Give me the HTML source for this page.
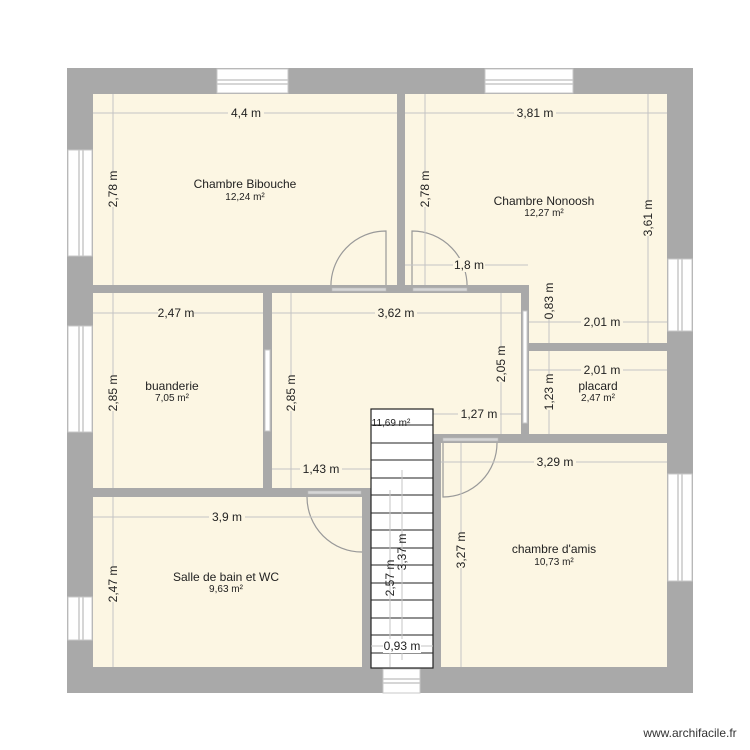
<!DOCTYPE html>
<html><head><style>
html,body{margin:0;padding:0;background:#fff;}
svg{display:block;font-family:"Liberation Sans",Arial,sans-serif;}
</style></head><body>
<svg width="750" height="750" viewBox="0 0 750 750" xmlns="http://www.w3.org/2000/svg">
<rect x="67" y="68" width="626" height="625" fill="#a9a9a9"/>
<g fill="#fcf6e3">
<rect x="93" y="94" width="304" height="191"/>
<rect x="405" y="94" width="262" height="191"/>
<rect x="529" y="285" width="138" height="58"/>
<rect x="529" y="351" width="138" height="83"/>
<rect x="93" y="293" width="170" height="195"/>
<rect x="272" y="293" width="249" height="143"/>
<rect x="272" y="436" width="161" height="52"/>
<rect x="93" y="497" width="269" height="170"/>
<rect x="441" y="443" width="226" height="224"/>
</g>
<g fill="#fff" stroke="#c8c8c8" stroke-width="1">
<rect x="217" y="69" width="71" height="24"/>
<rect x="485" y="69" width="88" height="24"/>
<rect x="68" y="150" width="24" height="106"/>
<rect x="68" y="326" width="24" height="106"/>
<rect x="68" y="597" width="24" height="43"/>
<rect x="668" y="259" width="24" height="72"/>
<rect x="668" y="474" width="24" height="107"/>
<rect x="383" y="669" width="37" height="24"/>
</g>
<g stroke="#c8c8c8" stroke-width="1.5">
<line x1="217" y1="80" x2="288" y2="80"/><line x1="217" y1="84" x2="288" y2="84"/>
<line x1="485" y1="80" x2="573" y2="80"/><line x1="485" y1="84" x2="573" y2="84"/>
<line x1="79" y1="150" x2="79" y2="256"/><line x1="83" y1="150" x2="83" y2="256"/>
<line x1="79" y1="326" x2="79" y2="432"/><line x1="83" y1="326" x2="83" y2="432"/>
<line x1="79" y1="597" x2="79" y2="640"/><line x1="83" y1="597" x2="83" y2="640"/>
<line x1="678" y1="259" x2="678" y2="331"/><line x1="682" y1="259" x2="682" y2="331"/>
<line x1="678" y1="474" x2="678" y2="581"/><line x1="682" y1="474" x2="682" y2="581"/>
<line x1="383" y1="679" x2="420" y2="679"/><line x1="383" y1="683" x2="420" y2="683"/>
</g>
<g fill="none" stroke="#999" stroke-width="1.2">
<path d="M386 289 V231 A55 55 0 0 0 331 289"/>
<path d="M412 289 V231 A55 55 0 0 1 467 289"/>
<path d="M307 497 A55 55 0 0 0 362 552"/>
<path d="M443 443 V497 A54 54 0 0 0 497 443"/>
</g>
<g stroke="#c4c4c4" stroke-width="1" fill="none">
<line x1="93" y1="113" x2="397" y2="113"/>
<line x1="113" y1="94" x2="113" y2="285"/>
<line x1="405" y1="113" x2="667" y2="113"/>
<line x1="425" y1="94" x2="425" y2="285"/>
<line x1="648" y1="94" x2="648" y2="343"/>
<line x1="405" y1="265" x2="528" y2="265"/>
<line x1="93" y1="313" x2="263" y2="313"/>
<line x1="113" y1="293" x2="113" y2="488"/>
<line x1="272" y1="313" x2="521" y2="313"/>
<line x1="291" y1="293" x2="291" y2="488"/>
<line x1="501" y1="293" x2="501" y2="436"/>
<line x1="529" y1="322" x2="667" y2="322"/>
<line x1="549" y1="285" x2="549" y2="343"/>
<line x1="529" y1="370" x2="667" y2="370"/>
<line x1="549" y1="351" x2="549" y2="434"/>
<line x1="433" y1="414" x2="521" y2="414"/>
<line x1="272" y1="469" x2="371" y2="469"/>
<line x1="441" y1="462" x2="667" y2="462"/>
<line x1="461" y1="443" x2="461" y2="667"/>
<line x1="93" y1="517" x2="362" y2="517"/>
<line x1="113" y1="497" x2="113" y2="667"/>
</g>
<g fill="#a9a9a9">
<rect x="93" y="285" width="436" height="8"/>
<rect x="397" y="94" width="8" height="199"/>
<rect x="521" y="285" width="8" height="151"/>
<rect x="529" y="343" width="138" height="8"/>
<rect x="433" y="434" width="234" height="9"/>
<rect x="433" y="434" width="8" height="233"/>
<rect x="263" y="293" width="9" height="204"/>
<rect x="93" y="488" width="278" height="9"/>
<rect x="362" y="488" width="9" height="179"/>
</g>
<g fill="#d6d6d6" stroke="#bbb" stroke-width="0.6">
<rect x="332" y="288" width="54" height="3"/>
<rect x="413" y="288" width="54" height="3"/>
<rect x="308" y="491" width="53" height="3"/>
<rect x="443" y="438" width="55" height="3"/>
</g>
<rect x="265" y="350" width="5" height="81" fill="#fff" stroke="#c8c8c8"/>
<rect x="523" y="311" width="4" height="112" fill="#fff" stroke="#c8c8c8"/>
<rect x="371" y="409" width="62" height="259" fill="#fff" stroke="#222" stroke-width="1.2"/>
<g stroke="#222" stroke-width="1">
<line x1="371" y1="425" x2="433" y2="425"/><line x1="371" y1="443" x2="433" y2="443"/>
<line x1="371" y1="460" x2="433" y2="460"/><line x1="371" y1="478" x2="433" y2="478"/>
<line x1="371" y1="495" x2="433" y2="495"/><line x1="371" y1="513" x2="433" y2="513"/>
<line x1="371" y1="530" x2="433" y2="530"/><line x1="371" y1="548" x2="433" y2="548"/>
<line x1="371" y1="565" x2="433" y2="565"/><line x1="371" y1="583" x2="433" y2="583"/>
<line x1="371" y1="600" x2="433" y2="600"/><line x1="371" y1="618" x2="433" y2="618"/>
<line x1="371" y1="635" x2="433" y2="635"/><line x1="371" y1="653" x2="433" y2="653"/>
</g>
<g stroke="#c4c4c4" stroke-width="1">
<line x1="390" y1="490" x2="390" y2="667"/>
<line x1="402" y1="470" x2="402" y2="660"/>
<line x1="371" y1="646" x2="433" y2="646"/>
</g>
<g font-size="12" fill="#222" text-anchor="middle">
<g fill="#fcf6e3"><rect x="228" y="106" width="36" height="14"/><rect x="514" y="106" width="42" height="14"/>
<rect x="158" y="306" width="36" height="14"/><rect x="375" y="306" width="42" height="14"/>
<rect x="581" y="315" width="42" height="14"/><rect x="581" y="363" width="42" height="14"/>
<rect x="453" y="258" width="32" height="14"/><rect x="458" y="407" width="42" height="14"/>
<rect x="300" y="462" width="42" height="14"/><rect x="534" y="455" width="42" height="14"/>
<rect x="209" y="510" width="36" height="14"/></g>
<rect x="383" y="639" width="38" height="14" fill="#fff"/>
<text x="246" y="117">4,4 m</text>
<text x="535" y="117">3,81 m</text>
<text x="176" y="317">2,47 m</text>
<text x="396" y="317">3,62 m</text>
<text x="602" y="326">2,01 m</text>
<text x="602" y="374">2,01 m</text>
<text x="469" y="269">1,8 m</text>
<text x="479" y="418">1,27 m</text>
<text x="321" y="473">1,43 m</text>
<text x="555" y="466">3,29 m</text>
<text x="227" y="521">3,9 m</text>
<text x="402" y="650">0,93 m</text>
<g transform="translate(117,189) rotate(-90)"><rect x="-18" y="-11" width="36" height="14" fill="#fcf6e3"/><text>2,78 m</text></g>
<g transform="translate(429,189) rotate(-90)"><rect x="-18" y="-11" width="36" height="14" fill="#fcf6e3"/><text>2,78 m</text></g>
<g transform="translate(652,218) rotate(-90)"><rect x="-18" y="-11" width="36" height="14" fill="#fcf6e3"/><text>3,61 m</text></g>
<g transform="translate(553,301) rotate(-90)"><rect x="-18" y="-11" width="36" height="14" fill="#fcf6e3"/><text>0,83 m</text></g>
<g transform="translate(553,392) rotate(-90)"><rect x="-18" y="-11" width="36" height="14" fill="#fcf6e3"/><text>1,23 m</text></g>
<g transform="translate(505,364) rotate(-90)"><rect x="-18" y="-11" width="36" height="14" fill="#fcf6e3"/><text>2,05 m</text></g>
<g transform="translate(117,393) rotate(-90)"><rect x="-18" y="-11" width="36" height="14" fill="#fcf6e3"/><text>2,85 m</text></g>
<g transform="translate(295,393) rotate(-90)"><rect x="-18" y="-11" width="36" height="14" fill="#fcf6e3"/><text>2,85 m</text></g>
<g transform="translate(465,550) rotate(-90)"><rect x="-18" y="-11" width="36" height="14" fill="#fcf6e3"/><text>3,27 m</text></g>
<g transform="translate(117,584) rotate(-90)"><rect x="-18" y="-11" width="36" height="14" fill="#fcf6e3"/><text>2,47 m</text></g>
<g transform="translate(394,578) rotate(-90)"><text>2,57 m</text></g>
<g transform="translate(406,552) rotate(-90)"><text>3,37 m</text></g>
<text x="245" y="188">Chambre Bibouche</text>
<text x="544" y="205">Chambre Nonoosh</text>
<text x="172" y="390">buanderie</text>
<text x="598" y="390">placard</text>
<text x="226" y="581">Salle de bain et WC</text>
<text x="554" y="553">chambre d'amis</text>
<g font-size="10">
<text x="245" y="200">12,24 m²</text>
<text x="544" y="216">12,27 m²</text>
<text x="172" y="401">7,05 m²</text>
<text x="598" y="401">2,47 m²</text>
<text x="226" y="592">9,63 m²</text>
<text x="554" y="565">10,73 m²</text>
<text x="391" y="426">11,69 m²</text>
</g>
<text x="690" y="737" font-size="12" fill="#333">www.archifacile.fr</text>
</g>
</svg>
</body></html>
